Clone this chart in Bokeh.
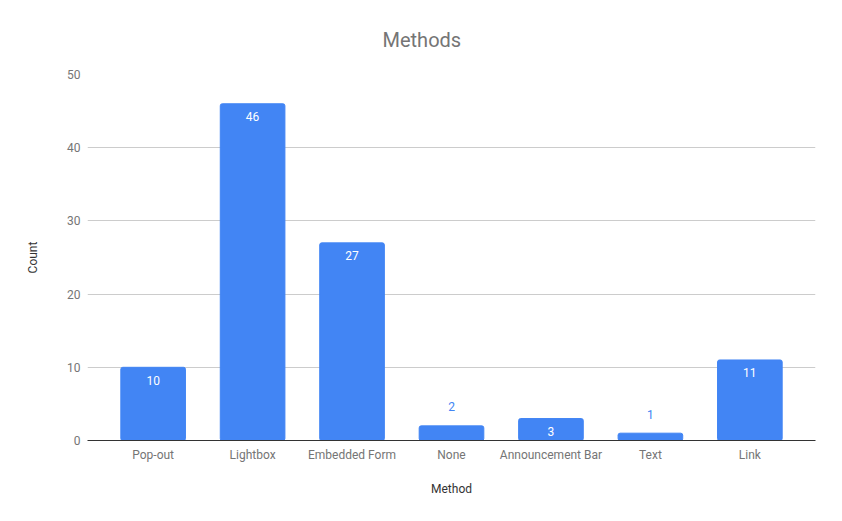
from bokeh.plotting import figure
from bokeh.models import ColumnDataSource, FactorRange, Range1d, FixedTicker, Title
from bokeh.embed import file_html
from bokeh.resources import INLINE
from bokeh.core.properties import value

methods = ["Pop-out", "Lightbox", "Embedded Form", "None", "Announcement Bar", "Text", "Link"]
counts = [10, 46, 27, 2, 3, 1, 11]
y_ticks = [0, 10, 20, 30, 40, 50]

BLUE = "#4285F4"
FONT = "Roboto"

inside = [c >= 3 for c in counts]
src = ColumnDataSource(dict(
    x=methods,
    top=counts,
    label=[str(c) for c in counts],
    color=["#ffffff" if i else BLUE for i in inside],
    off=[13 if i else -19 for i in inside],
))

p = figure(x_range=FactorRange(*methods, range_padding=0.16, range_padding_units="absolute"),
           y_range=Range1d(0, 50),
           width=826, height=505, output_backend="svg", toolbar_location=None,
           min_border_left=87, min_border_right=11, min_border_top=74, min_border_bottom=65)
p.outline_line_color = None

p.vbar(x="x", top="top", width=0.65, source=src, color=BLUE, border_radius=2)
p.text(x="x", y="top", text="label", y_offset="off", source=src,
       text_color="color", text_align="center", text_baseline="middle",
       text_font=value(FONT), text_font_size="12px")

t = Title(text="Methods", align="left", text_font=FONT, text_font_size="20px",
          text_font_style="normal", text_color="#757575", offset=295, standoff=46)
p.add_layout(t, "above")

p.xgrid.grid_line_color = None
p.ygrid.grid_line_color = "#cccccc"
p.ygrid.ticker = FixedTicker(ticks=y_ticks)

p.yaxis.ticker = FixedTicker(ticks=y_ticks)
p.yaxis.axis_line_color = None
p.yaxis.major_tick_line_color = None
p.yaxis.minor_tick_line_color = None
p.yaxis.major_tick_out = 0
p.yaxis.major_label_standoff = 7
p.yaxis.axis_label = "Count"
p.yaxis.axis_label_standoff = 24

p.xaxis.axis_line_color = "#333333"
p.xaxis.major_tick_line_color = None
p.xaxis.minor_tick_line_color = None
p.xaxis.major_tick_out = 0
p.xaxis.major_label_standoff = 7
p.xaxis.axis_label = "Method"
p.xaxis.axis_label_standoff = 17

for ax in (p.xaxis[0], p.yaxis[0]):
    ax.major_label_text_font = FONT
    ax.major_label_text_font_size = "12px"
    ax.major_label_text_color = "#757575"
    ax.axis_label_text_font = FONT
    ax.axis_label_text_font_size = "12px"
    ax.axis_label_text_font_style = "normal"
    ax.axis_label_text_color = "#333333"

open("out.html", "w").write(file_html(p, INLINE))
